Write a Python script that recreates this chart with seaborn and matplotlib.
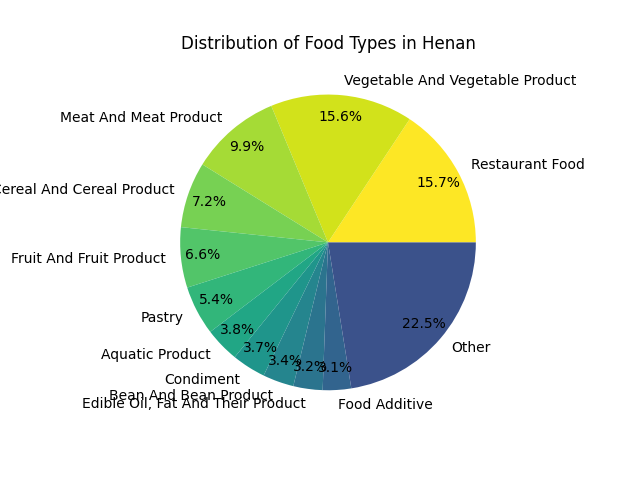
import matplotlib
matplotlib.use("Agg")
import matplotlib.pyplot as plt
import seaborn as sns
import numpy as np

categories = ["Restaurant Food", "Vegetable And Vegetable Product", "Meat And Meat Product",
              "Cereal And Cereal Product", "Fruit And Fruit Product", "Pastry", "Aquatic Product",
              "Condiment", "Bean And Bean Product", "Edible Oil, Fat And Their Product",
              "Food Additive", "Other"]
shares = [15.7, 15.6, 9.9, 7.2, 6.6, 5.4, 3.8, 3.7, 3.4, 3.2, 3.1, 22.5]

colors = plt.cm.viridis(np.linspace(1, 0.25, len(categories)))

fig, ax = plt.subplots(figsize=(6.4, 4.8), dpi=100)
ax.pie(shares, labels=categories, colors=colors, autopct="%1.1f%%", pctdistance=0.85,
       startangle=0)
ax.set_title("Distribution of Food Types in Henan")
fig.savefig("out.png")
